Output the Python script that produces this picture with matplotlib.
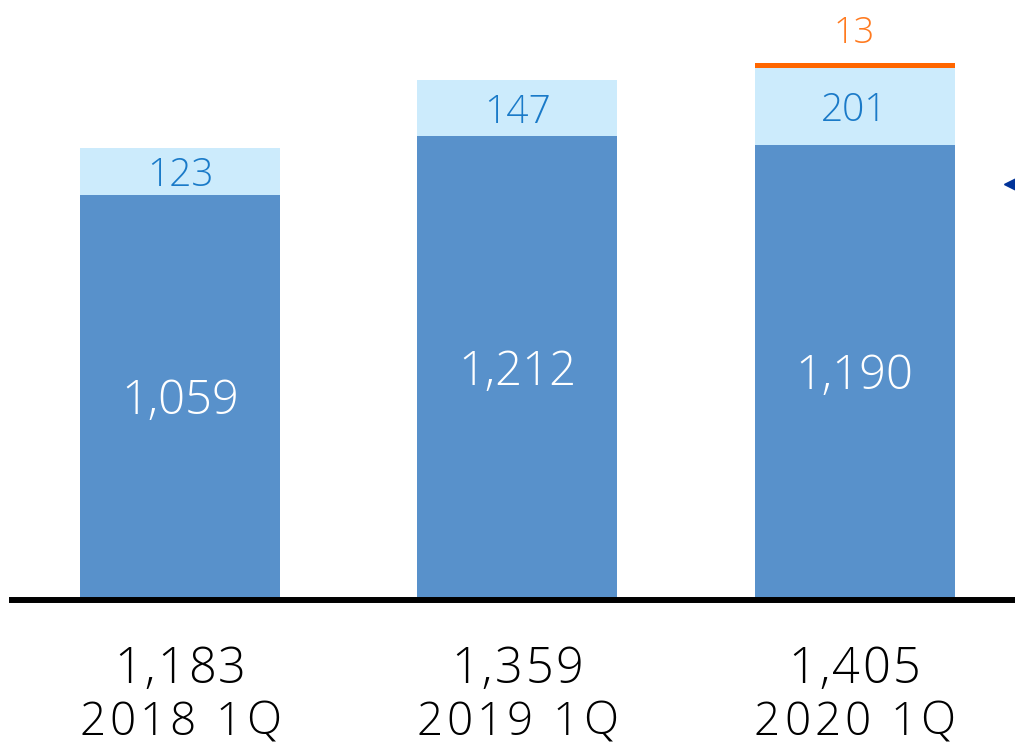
import matplotlib
matplotlib.use("Agg")
import matplotlib.pyplot as plt
from matplotlib.font_manager import FontProperties

categories = ["2018 1Q", "2019 1Q", "2020 1Q"]
totals = ["1,183", "1,359", "1,405"]
base_vals = [1059, 1212, 1190]
mid_vals = [123, 147, 201]
top_vals = [0, 0, 13]

dark = "#5891CB"
light = "#CCEBFC"
orange = "#FF6600"
blue_txt = "#1A7AC8"

FAMILY = ['Open Sans', 'DejaVu Sans']
plt.rcParams['font.family'] = FAMILY

fig = plt.figure(figsize=(10.15, 7.44), dpi=100)
ax = fig.add_axes([0, 0, 1, 1])
ax.set_xlim(-0.5337, 2.4756)
ax.set_ylim(-376.5, 1568.6)
ax.axis("off")

x = list(range(len(categories)))
w = 0.593
ax.bar(x, base_vals, width=w, color=dark, zorder=2)
ax.bar(x, mid_vals, width=w, bottom=base_vals, color=light, zorder=2)
bottoms2 = [b + m for b, m in zip(base_vals, mid_vals)]
ax.bar(x, top_vals, width=w, bottom=bottoms2, color=orange, zorder=2)

ax.axhline(0, xmin=12 / 1015, xmax=1, color="black", lw=4.3, zorder=3)

renderer = fig.canvas.get_renderer()


def tracked_text(xc, y, s, size, extra_px, color):
    fp = FontProperties(family=FAMILY, size=size, weight="light")
    widths = [renderer.get_text_width_height_descent(c, fp, ismath=False)[0] for c in s]
    space_w = renderer.get_text_width_height_descent("a a", fp, ismath=False)[0] - \
        renderer.get_text_width_height_descent("aa", fp, ismath=False)[0]
    widths = [space_w if c == " " else wd for c, wd in zip(s, widths)]
    total = sum(widths) + extra_px * (len(s) - 1)
    px0 = ax.transData.transform((xc, y))[0] - total / 2
    inv = ax.transData.inverted()
    cur = px0
    for c, wd in zip(s, widths):
        if c != " ":
            xd = inv.transform((cur, 0))[0]
            ax.text(xd, y, c, ha="left", va="baseline", color=color,
                    fontproperties=fp)
        cur += wd + extra_px


for i in x:
    ax.text(i, base_vals[i] / 2 - 44, f"{base_vals[i]:,}", ha="center", va="baseline",
            color="white", fontsize=34, fontweight="light", zorder=4)
    ax.text(i, base_vals[i] + mid_vals[i] / 2 - 39, f"{mid_vals[i]:,}", ha="center", va="baseline",
            color=blue_txt, fontsize=28, fontweight="light", zorder=4)
    if top_vals[i]:
        ax.text(i, bottoms2[i] + top_vals[i] + 52, f"{top_vals[i]}", ha="center", va="baseline",
                color="#FF7A1F", fontsize=26, fontweight="light", zorder=4)
    tracked_text(i, -217, totals[i], 35, 2.5, "black")
    tracked_text(i, -352, categories[i], 33, 4.0, "black")

ax.plot([2.4667], [1088], marker="<", color="#003399", markersize=11, clip_on=False, zorder=5)

fig.savefig("out.png", dpi=100)
